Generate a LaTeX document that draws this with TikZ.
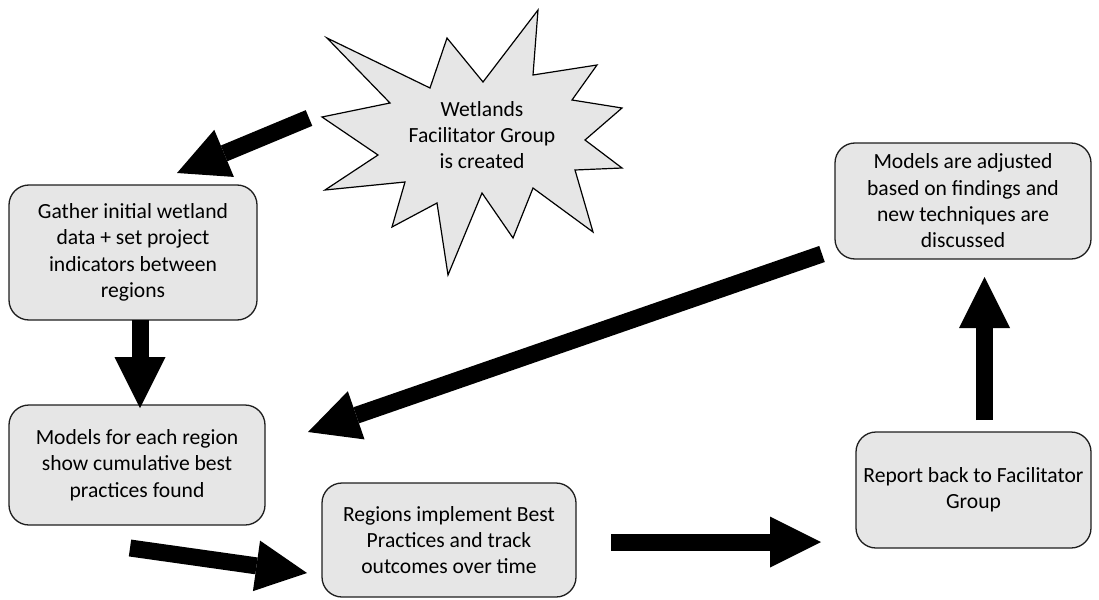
\documentclass[tikz,border=0pt]{standalone}
\usepackage{fontspec}
\setmainfont{Carlito}
\usetikzlibrary{arrows.meta}
\definecolor{boxgray}{RGB}{230,230,230}
\definecolor{edgegray}{RGB}{30,30,30}
\begin{document}
\begin{tikzpicture}[x=1pt,y=-1pt,
  procbox/.style={draw=edgegray, fill=boxgray, line width=1.3pt, rounded corners=20pt,
    align=center, inner sep=0pt, font=\fontsize{21.6}{26.3}\selectfont},
  startext/.style={align=center, inner sep=0pt, font=\fontsize{21.6}{26.3}\selectfont},
  blockarrow/.style={line width=17pt, -{Triangle[length=51pt,width=51pt,line width=0pt]}}]
\useasboundingbox (0,0) rectangle (1099,599);

% star
\filldraw[fill=boxgray, draw=black, line width=1.2pt, line join=miter]
  (538,10) -- (533,75) -- (597,65) -- (572,100) -- (622,108) -- (585,140)
  -- (622,168) -- (575,170) -- (593,232) -- (533,188) -- (513,238) -- (482,193)
  -- (448,275) -- (437,203) -- (392,227) -- (405,182) -- (325,190) -- (378,155)
  -- (322,117) -- (390,103) -- (327,38) -- (430,88) -- (447,38) -- (483,82) -- cycle;
\node[startext] (star) at (482,135) {Wetlands\\Facilitator Group\\is created};

% boxes
\node[procbox, minimum width=248pt, minimum height=135pt] (gather) at (133,252.5)
  {Gather initial wetland\\data + set project\\indicators between\\regions};
\node[procbox, minimum width=256pt, minimum height=120pt] (models) at (137,465)
  {Models for each region\\show cumulative best\\practices found};
\node[procbox, minimum width=254pt, minimum height=114pt] (regions) at (449,540)
  {Regions implement Best\\Practices and track\\outcomes over time};
\node[procbox, minimum width=235pt, minimum height=116pt] (report) at (973.5,490)
  {Report back to Facilitator\\Group};
\node[procbox, minimum width=256pt, minimum height=116pt] (adjusted) at (963,201)
  {Models are adjusted\\based on findings and\\new techniques are\\discussed};

% arrow end points
\coordinate (a1s) at (309,118);  \coordinate (a1e) at (177,173);
\coordinate (a2s) at (140,320);  \coordinate (a2e) at (140,408);
\coordinate (a3s) at (130,548);  \coordinate (a3e) at (307,573);
\coordinate (a4s) at (611,542);  \coordinate (a4e) at (821,542);
\coordinate (a5s) at (984.5,420); \coordinate (a5e) at (984.5,277);
\coordinate (a6s) at (822,254);  \coordinate (a6e) at (308,432);

\draw[blockarrow] (a1s) -- (a1e);
\draw[blockarrow] (a2s) -- (a2e);
\draw[blockarrow] (a3s) -- (a3e);
\draw[blockarrow] (a4s) -- (a4e);
\draw[blockarrow] (a5s) -- (a5e);
\draw[blockarrow] (a6s) -- (a6e);
\end{tikzpicture}
\end{document}
